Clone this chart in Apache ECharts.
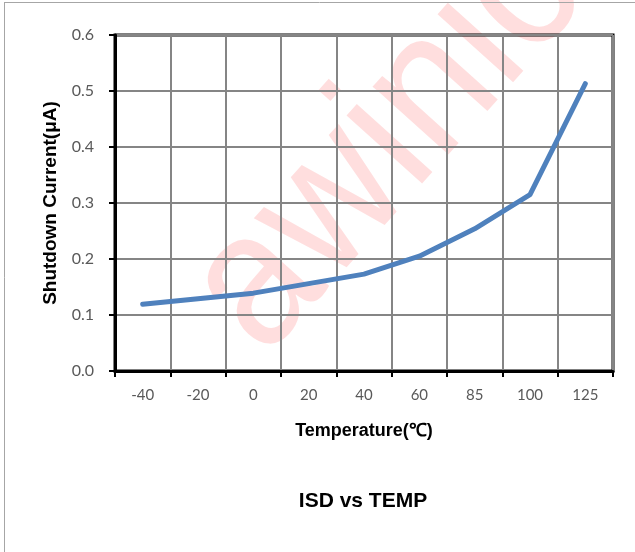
<!DOCTYPE html>
<html lang="en">
<head>
    <meta charset="UTF-8" />
    <title>ISD vs TEMP</title>
</head>
<body style="margin:0">
<div id="main" style="width:635px;height:552px"></div>
<script src="https://cdn.jsdelivr.net/npm/echarts@6/dist/echarts.min.js"></script>
<script>
  // temperature points (category axis)
  var temps = ['-40', '-20', '0', '20', '40', '60', '85', '100', '125'];
  // shutdown current, uA
  var isd = [0.119, 0.129, 0.139, 0.156, 0.173, 0.205, 0.254, 0.315, 0.513];
  var yTicks = [0, 0.1, 0.2, 0.3, 0.4, 0.5, 0.6];

  var myChart = echarts.init(document.getElementById('main'));

  var option = {
    backgroundColor: '#fff',
    animation: false,
    grid: {
      left: 115, right: 22, top: 35, bottom: 181,
      show: true, borderColor: '#000', borderWidth: 3
    },
    // frame lines, watermark, y name, chart title
    graphic: [
      { type: 'line', z: 100, shape: { x1: 4, y1: 2.5, x2: 635, y2: 2.5 }, style: { stroke: '#a6a6a6', lineWidth: 1 } },
      { type: 'line', z: 100, shape: { x1: 4.5, y1: 2.5, x2: 4.5, y2: 552 }, style: { stroke: '#a6a6a6', lineWidth: 1 } },
      {
        type: 'text', z: -10, x: 225, y: 323, rotation: 48 * Math.PI / 180, scaleY: 1.1,
        style: { text: 'awinic', fontSize: 175, fontFamily: 'Liberation Sans', fill: 'rgba(255,0,0,0.13)', align: 'left', verticalAlign: 'middle' }
      },
      {
        type: 'text', x: 51, y: 203, rotation: Math.PI / 2,
        style: { text: 'Shutdown Current(μA)', fontSize: 19, fontWeight: 'bold', fontFamily: 'Liberation Sans', fill: '#000', align: 'center', verticalAlign: 'middle' }
      },
      {
        type: 'text', x: 363, y: 501,
        style: { text: 'ISD vs TEMP', fontSize: 21, fontWeight: 'bold', fontFamily: 'Liberation Sans', fill: '#000', align: 'center', verticalAlign: 'middle' }
      }
    ],
    xAxis: {
      type: 'category',
      data: temps,
      boundaryGap: true,
      name: 'Temperature(℃)',
      nameLocation: 'middle',
      nameGap: 51,
      nameTextStyle: { fontFamily: 'Liberation Sans', fontWeight: 'bold', fontSize: 18, color: '#000' },
      axisLine: { lineStyle: { color: '#000', width: 3 } },
      axisTick: { show: true, length: 6, lineStyle: { color: '#000', width: 2 } },
      axisLabel: { color: '#595959', fontSize: 15, fontFamily: 'Lato', margin: 17 },
      splitLine: { show: true, lineStyle: { color: '#858585', width: 2 } }
    },
    yAxis: {
      type: 'value',
      min: yTicks[0],
      max: yTicks[yTicks.length - 1],
      interval: 0.1,
      axisLine: { show: true, lineStyle: { color: '#000', width: 3 } },
      axisTick: { show: true, length: 6, lineStyle: { color: '#000', width: 2 } },
      axisLabel: {
        color: '#595959', fontSize: 16, fontFamily: 'Lato', margin: 21,
        formatter: function (v) { return v.toFixed(1); }
      },
      splitLine: { show: true, lineStyle: { color: '#858585', width: 2 } }
    },
    series: [
      {
        type: 'line',
        data: isd,
        symbol: 'none',
        lineStyle: { color: '#4f81bd', width: 5, cap: 'round', join: 'round' }
      }
    ]
  };
  myChart.setOption(option);
</script>
</body>
</html>
